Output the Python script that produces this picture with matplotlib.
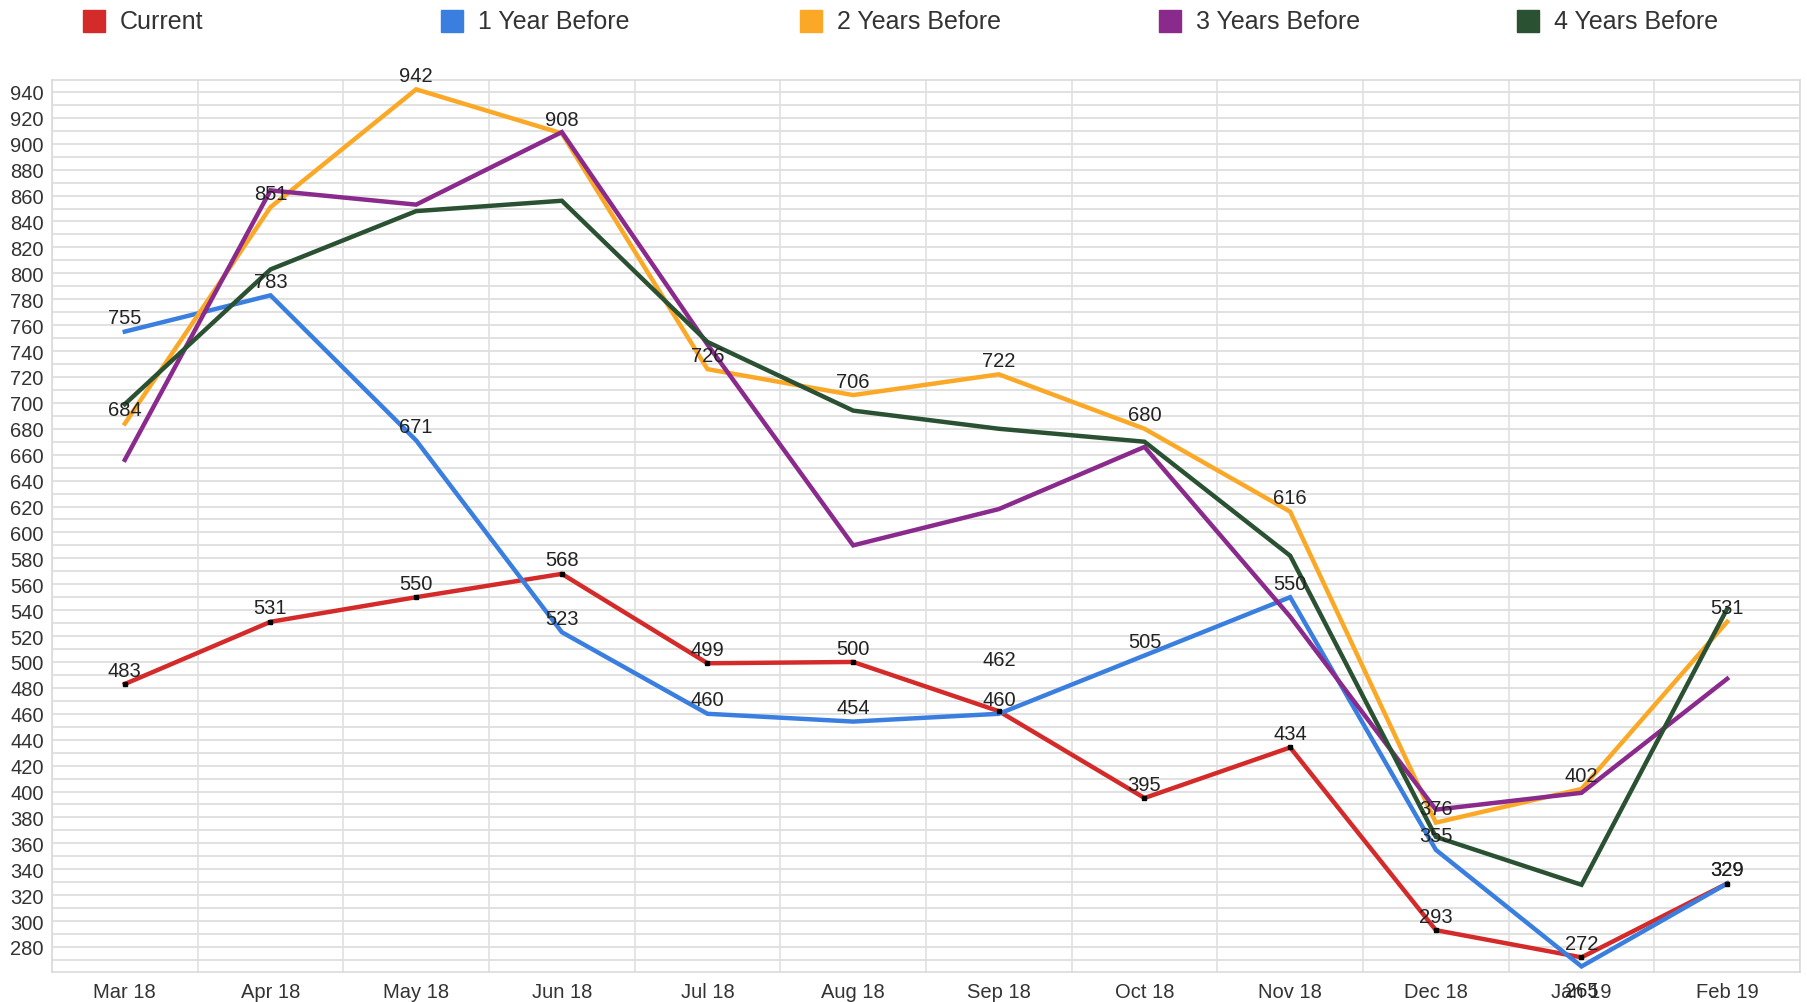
import numpy as np
import matplotlib
matplotlib.use("Agg")
import matplotlib.pyplot as plt
from matplotlib.patches import Rectangle

plt.rcParams['font.family'] = ['Liberation Sans', 'DejaVu Sans']

months = ['Mar 18', 'Apr 18', 'May 18', 'Jun 18', 'Jul 18', 'Aug 18',
          'Sep 18', 'Oct 18', 'Nov 18', 'Dec 18', 'Jan 19', 'Feb 19']
series_names = ['Current', '1 Year Before', '2 Years Before', '3 Years Before', '4 Years Before']
current = [483, 531, 550, 568, 499, 500, 462, 395, 434, 293, 272, 329]
year1 = [755, 783, 671, 523, 460, 454, 460, 505, 550, 355, 265, 329]
year2 = [684, 851, 942, 908, 726, 706, 722, 680, 616, 376, 402, 531]
year3 = [656, 864, 853, 909, 745, 590, 618, 666, 535, 386, 399, 487]
year4 = [699, 803, 848, 856, 747, 694, 680, 670, 582, 365, 328, 541]

colors = ['#d42a2a', '#3a7fe0', '#fba826', '#8a2a8c', '#2b5133']
labelled = {'Current', '1 Year Before', '2 Years Before'}
# offsets (points) for labels that had to dodge each other
label_shift = {('Current', 6): 37, ('1 Year Before', 10): -17}

fig = plt.figure(figsize=(18.08, 10.03), dpi=100)
ax = fig.add_axes([52 / 1808, 30 / 1003, 1748 / 1808, 892 / 1003])

x = np.arange(len(months))
data = [current, year1, year2, year3, year4]

# grid
for v in np.arange(270, 950, 10):
    ax.axhline(v, color='#dedede', lw=1.3, zorder=0)
for b in np.arange(-0.5, len(months), 1.0):
    ax.axvline(b, color='#e0e0e0', lw=1.2, zorder=0)

for i, (name, vals) in enumerate(zip(series_names, data)):
    ax.plot(x, vals, color=colors[i], lw=3.2, solid_joinstyle='miter', zorder=2 + i)
    if name == 'Current':
        ax.plot(x, vals, 's', color='black', ms=3.5, zorder=10)
    if name in labelled:
        for j, v in enumerate(vals):
            dy = label_shift.get((name, j), 10)
            ax.annotate(str(v), (x[j], v), xytext=(0, dy), textcoords='offset points',
                        ha='center', va='center', fontsize=14.5, color='#222222', zorder=12)

ax.set_xlim(-0.5, len(months) - 0.5)
ax.set_ylim(260.7, 949.2)
ax.set_yticks(np.arange(280, 941, 20))
ax.set_xticks(x)
ax.set_xticklabels(months)
ax.tick_params(length=0, labelsize=14.5, colors='#333333')
ax.tick_params(axis='y', pad=6)
ax.tick_params(axis='x', pad=7)
for s in ax.spines.values():
    s.set_color('#dadada')
    s.set_linewidth(1.2)

# legend row at the top
for i, name in enumerate(series_names):
    left = 83 + i * 358.5
    fig.patches.append(Rectangle((left / 1808, (1003 - 33) / 1003), 22 / 1808, 22 / 1003,
                                 transform=fig.transFigure, color=colors[i]))
    fig.text((left + 37) / 1808, (1003 - 22) / 1003, name, fontsize=18,
             color='#333333', va='center', ha='left')

fig.savefig('out.png', dpi=100, facecolor='white')
